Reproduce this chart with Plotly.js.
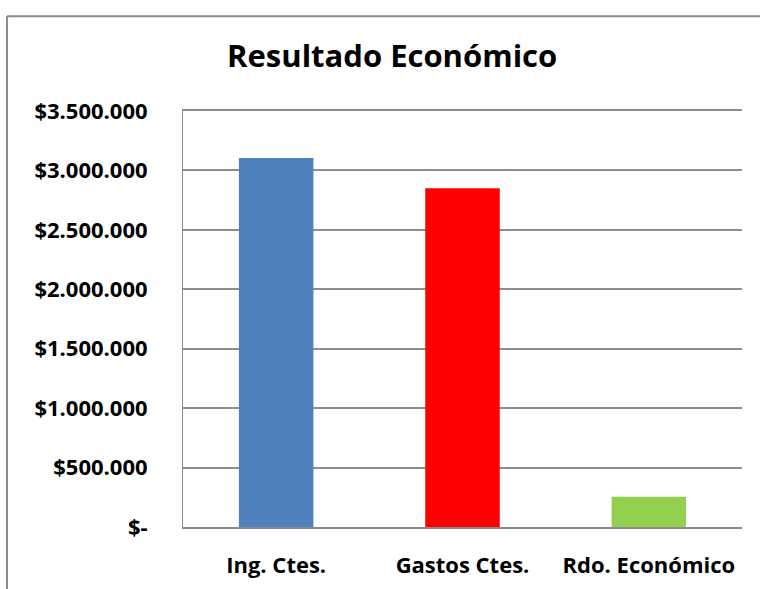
<!DOCTYPE html>
<html>
<head>
<meta charset="utf-8">
<script src="https://cdn.plot.ly/plotly-3.0.1.min.js"></script>
<style>html,body{margin:0;padding:0;background:#fff;}#chart{width:760px;height:589px;}</style>
</head>
<body>
<div id="chart"></div>
<script>
const categories = ["Ing. Ctes.", "Gastos Ctes.", "Rdo. Económico"];
const values = [3105000, 2850000, 255000];
const barColors = ["#4F81BD", "#FF0000", "#92D050"];
const tickVals = [0, 500000, 1000000, 1500000, 2000000, 2500000, 3000000, 3500000];
const tickText = ["$-", "$500.000", "$1.000.000", "$1.500.000", "$2.000.000", "$2.500.000", "$3.000.000", "$3.500.000"];

const FONT = "'Open Sans', Lato, sans-serif";

const trace = {
  type: "bar",
  x: categories,
  y: values,
  marker: { color: barColors, line: { width: 0 } },
  hoverinfo: "skip"
};

const layout = {
  width: 760,
  height: 589,
  paper_bgcolor: "#ffffff",
  plot_bgcolor: "#ffffff",
  margin: { l: 183, r: 18, t: 111, b: 61.5 },
  showlegend: false,
  bargap: 0.6,
  title: {
    text: "<b>Resultado Económico</b>",
    font: { family: FONT, size: 31, color: "#000000" },
    x: 0.516, xanchor: "center", xref: "container",
    y: 1 - 56 / 589, yanchor: "middle", yref: "container"
  },
  xaxis: {
    type: "category",
    showgrid: false,
    showline: true,
    mirror: true,
    linecolor: "#8a8a8a",
    linewidth: 2,
    ticks: "",
    zeroline: false,
    ticklabelstandoff: 18,
    tickfont: { family: FONT, size: 22, color: "#000000", weight: "bold" }
  },
  yaxis: {
    range: [0, 3500000],
    tickvals: tickVals,
    ticktext: tickText,
    showgrid: true,
    gridcolor: "#8e8e8e",
    gridwidth: 2,
    showline: true,
    linecolor: "#8a8a8a",
    linewidth: 1,
    zeroline: false,
    ticks: "",
    ticklabelstandoff: 30,
    tickfont: { family: FONT, size: 22, color: "#000000", weight: "bold" }
  },
  shapes: [
    { type: "line", xref: "paper", yref: "paper", x0: -0.3148, x1: -0.3148, y0: -0.2, y1: 1.228,
      line: { color: "#8c8c8c", width: 2 } },
    { type: "line", xref: "paper", yref: "paper", x0: -0.3148, x1: 1.1, y0: 1.228, y1: 1.228,
      line: { color: "#8c8c8c", width: 2 } }
  ]
};

Plotly.newPlot("chart", [trace], layout, { staticPlot: true, displayModeBar: false });
</script>
</body>
</html>
